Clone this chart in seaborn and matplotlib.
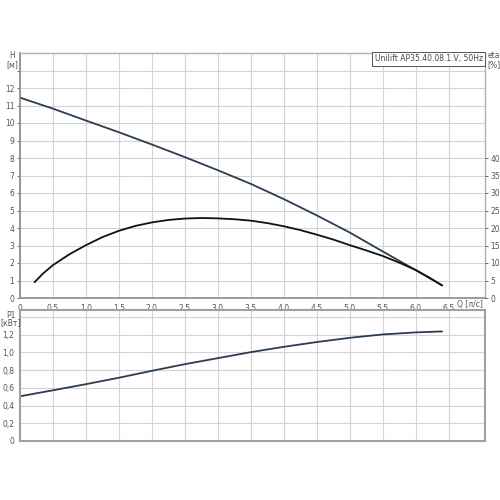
import matplotlib
matplotlib.use("Agg")
import matplotlib.pyplot as plt
import seaborn as sns
import numpy as np
import pandas as pd

# ---- data ----
q_h = [0.0, 0.5, 1.0, 1.5, 2.0, 2.5, 3.0, 3.5, 4.0, 4.5, 5.0, 5.5, 6.0, 6.4]
h_vals = [11.45, 10.82, 10.14, 9.47, 8.77, 8.05, 7.30, 6.52, 5.65, 4.72, 3.74, 2.66, 1.59, 0.72]

q_eta = [0.22, 0.35, 0.5, 0.75, 1.0, 1.25, 1.5, 1.75, 2.0, 2.25, 2.5, 2.75, 3.0, 3.25,
         3.5, 3.75, 4.0, 4.25, 4.5, 4.75, 5.0, 5.25, 5.5, 5.75, 6.0, 6.2, 6.4]
eta_vals = [4.5, 7.0, 9.4, 12.5, 15.1, 17.4, 19.2, 20.6, 21.6, 22.3, 22.7, 22.85, 22.75, 22.5,
            22.1, 21.4, 20.5, 19.4, 18.1, 16.7, 15.1, 13.6, 12.0, 10.1, 8.0, 5.9, 3.6]

q_p = [0.0, 0.5, 1.0, 1.5, 2.0, 2.5, 3.0, 3.5, 4.0, 4.5, 5.0, 5.5, 6.0, 6.4]
p1_vals = [0.505, 0.573, 0.642, 0.715, 0.793, 0.868, 0.936, 1.004, 1.064, 1.118, 1.166, 1.204, 1.227, 1.238]

x_ticks = [0, 0.5, 1.0, 1.5, 2.0, 2.5, 3.0, 3.5, 4.0, 4.5, 5.0, 5.5, 6.0, 6.5]
x_labels = ["0", "0,5", "1,0", "1,5", "2,0", "2,5", "3,0", "3,5", "4,0", "4,5", "5,0", "5,5", "6,0", "6,5"]
h_ticks = list(range(0, 14))
h_labels = [str(v) for v in range(0, 13)] + [""]
eta_ticks = [0, 5, 10, 15, 20, 25, 30, 35, 40]
p_ticks = [0, 0.2, 0.4, 0.6, 0.8, 1.0, 1.2, 1.4]
p_labels = ["0", "0,2", "0,4", "0,6", "0,8", "1,0", "1,2", ""]

title_text = "Unilift AP35.40.08.1.V, 50Hz"

sns.set_style("white")
plt.rcParams['font.family'] = ['DejaVu Sans']

df_h = pd.DataFrame({"Q": q_h, "H": h_vals})
df_e = pd.DataFrame({"Q": q_eta, "eta": eta_vals})
df_p = pd.DataFrame({"Q": q_p, "P1": p1_vals})

fig = plt.figure(figsize=(5, 5), dpi=100)
ax1 = fig.add_axes([0.04, 0.404, 0.93, 0.49])
ax2 = fig.add_axes([0.04, 0.118, 0.93, 0.262])

grid_c = "#d4d4d4"
tick_c = "#555555"
fs = 5.5
line_c = "#2b3d52"

for ax in (ax1, ax2):
    ax.set_xlim(0, 7.05)
    ax.set_xticks(x_ticks)
    ax.grid(True, color=grid_c, linewidth=0.8)
    ax.set_axisbelow(True)
    for s in ax.spines.values():
        s.set_color("#b0b0b0")
        s.set_linewidth(1.0)
    ax.tick_params(axis="both", labelsize=fs, colors=tick_c, length=2.5, width=0.6, pad=1.5)

# top plot
ax1.set_ylim(0, 14)
ax1.set_yticks(h_ticks)
ax1.set_yticklabels(h_labels)
ax1.set_xticklabels(x_labels)
ax1.spines["left"].set_color("#8a8a8a")
ax1.spines["bottom"].set_color("#8a8a8a")
ax1.spines["left"].set_linewidth(1.2)
ax1.spines["bottom"].set_linewidth(1.2)

ax1b = ax1.twinx()
ax1b.set_ylim(0, 70)
ax1b.set_yticks(eta_ticks)
ax1b.tick_params(axis="y", labelsize=fs, colors=tick_c, length=2.5, width=0.6, pad=1.5)
for s in ax1b.spines.values():
    s.set_visible(False)

sns.lineplot(data=df_h, x="Q", y="H", ax=ax1, color=line_c, linewidth=1.3)
sns.lineplot(data=df_e, x="Q", y="eta", ax=ax1b, color="#111111", linewidth=1.3)
ax1.set_xlabel("")
ax1.set_ylabel("")
ax1b.set_ylabel("")
ax1b.set_xlabel("")

# bottom plot
ax2.set_ylim(0, 1.48)
ax2.set_yticks(p_ticks)
ax2.set_yticklabels(p_labels)
ax2.set_xticklabels([])
ax2.tick_params(axis="x", length=0)
for s in ax2.spines.values():
    s.set_color("#a0a0a0")
    s.set_linewidth(1.5)
sns.lineplot(data=df_p, x="Q", y="P1", ax=ax2, color=line_c, linewidth=1.3)
ax2.set_xlabel("")
ax2.set_ylabel("")

# labels
fig.text(0.024, 0.888, "H", fontsize=fs, color=tick_c, ha="center", va="center")
fig.text(0.024, 0.871, "[м]", fontsize=fs, color=tick_c, ha="center", va="center")
fig.text(0.988, 0.888, "eta", fontsize=fs, color=tick_c, ha="center", va="center")
fig.text(0.988, 0.871, "[%]", fontsize=fs, color=tick_c, ha="center", va="center")
fig.text(0.94, 0.39, "Q [л/с]", fontsize=fs, color=tick_c, ha="center", va="center")
fig.text(0.022, 0.37, "P1", fontsize=fs, color=tick_c, ha="center", va="center")
fig.text(0.022, 0.355, "[кВт]", fontsize=fs, color=tick_c, ha="center", va="center")

ax1.text(0.995, 0.995, title_text, transform=ax1.transAxes, fontsize=fs, color="#444444",
         ha="right", va="top",
         bbox=dict(boxstyle="square,pad=0.3", facecolor="white", edgecolor="#555555", linewidth=0.7))

fig.savefig("out.png", dpi=100, facecolor="white")
